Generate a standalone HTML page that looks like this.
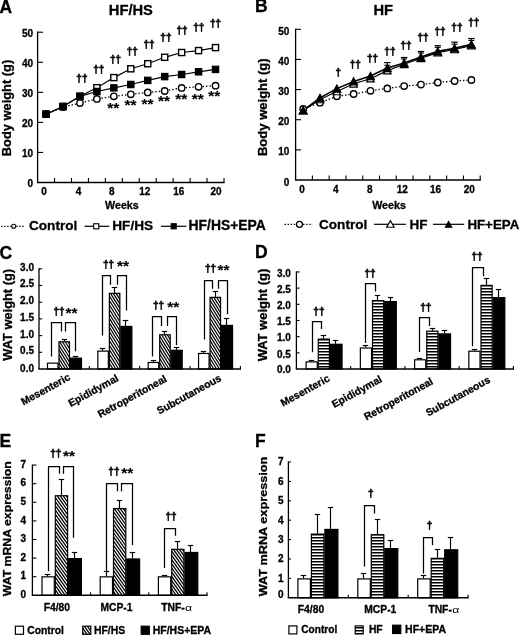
<!DOCTYPE html>
<html lang="en"><head><meta charset="utf-8"><title>Figure</title>
<style>
html,body{margin:0;padding:0;background:#fff}
body{width:520px;height:635px;overflow:hidden}
svg{display:block}
text{font-family:"Liberation Sans",sans-serif;fill:#000;stroke:#000;stroke-width:.3px}
.dg{stroke-width:.55px}
.nb{stroke:none}
.as{stroke-width:.1px}
</style></head><body>
<svg width="520" height="635" viewBox="0 0 520 635">
<defs>
<pattern id="hd" patternUnits="userSpaceOnUse" width="1.78" height="20" patternTransform="rotate(-33)">
<rect width="1.78" height="20" fill="#fff"/><rect width="0.98" height="20" fill="#000"/></pattern>
<pattern id="he" patternUnits="userSpaceOnUse" width="2" height="20" patternTransform="rotate(-37.4)">
<rect width="2" height="20" fill="#fff"/><rect width="1.1" height="20" fill="#000"/></pattern>
<pattern id="hh" patternUnits="userSpaceOnUse" width="10" height="2.81">
<rect width="10" height="2.81" fill="#fff"/><rect width="10" height="1.4" fill="#000"/></pattern>
</defs>
<rect width="520" height="635" fill="#fff"/>

<text x="-0.5" y="12.7" font-size="17.5" font-weight="bold" text-anchor="start" >A</text>
<text x="255" y="12.4" font-size="17.5" font-weight="bold" text-anchor="start" >B</text>
<text x="-0.5" y="258.5" font-size="17.5" font-weight="bold" text-anchor="start" >C</text>
<text x="255" y="258.3" font-size="17.5" font-weight="bold" text-anchor="start" >D</text>
<text x="-0.5" y="446.5" font-size="17.5" font-weight="bold" text-anchor="start" >E</text>
<text x="255" y="446.7" font-size="17.5" font-weight="bold" text-anchor="start" >F</text>
<line x1="37.6" y1="31.6" x2="37.6" y2="182.5" stroke="#000" stroke-width="1.3" />
<line x1="37" y1="182.5" x2="224.6" y2="182.5" stroke="#000" stroke-width="1.3" />
<text x="33.1" y="187.1" font-size="10" font-weight="bold" text-anchor="end" >0</text>
<line x1="37.6" y1="152.44" x2="43.1" y2="152.44" stroke="#000" stroke-width="1.1" />
<text x="33.1" y="157.04" font-size="10" font-weight="bold" text-anchor="end" >10</text>
<line x1="37.6" y1="122.38" x2="43.1" y2="122.38" stroke="#000" stroke-width="1.1" />
<text x="33.1" y="126.98" font-size="10" font-weight="bold" text-anchor="end" >20</text>
<line x1="37.6" y1="92.32" x2="43.1" y2="92.32" stroke="#000" stroke-width="1.1" />
<text x="33.1" y="96.92" font-size="10" font-weight="bold" text-anchor="end" >30</text>
<line x1="37.6" y1="62.26" x2="43.1" y2="62.26" stroke="#000" stroke-width="1.1" />
<text x="33.1" y="66.86" font-size="10" font-weight="bold" text-anchor="end" >40</text>
<line x1="37.6" y1="32.2" x2="43.1" y2="32.2" stroke="#000" stroke-width="1.1" />
<text x="33.1" y="36.8" font-size="10" font-weight="bold" text-anchor="end" >50</text>
<line x1="54.55" y1="182.5" x2="54.55" y2="178" stroke="#000" stroke-width="1.1" />
<line x1="71.49" y1="182.5" x2="71.49" y2="178" stroke="#000" stroke-width="1.1" />
<line x1="88.44" y1="182.5" x2="88.44" y2="178" stroke="#000" stroke-width="1.1" />
<line x1="105.38" y1="182.5" x2="105.38" y2="178" stroke="#000" stroke-width="1.1" />
<line x1="122.33" y1="182.5" x2="122.33" y2="178" stroke="#000" stroke-width="1.1" />
<line x1="139.27" y1="182.5" x2="139.27" y2="178" stroke="#000" stroke-width="1.1" />
<line x1="156.22" y1="182.5" x2="156.22" y2="178" stroke="#000" stroke-width="1.1" />
<line x1="173.16" y1="182.5" x2="173.16" y2="178" stroke="#000" stroke-width="1.1" />
<line x1="190.11" y1="182.5" x2="190.11" y2="178" stroke="#000" stroke-width="1.1" />
<line x1="207.05" y1="182.5" x2="207.05" y2="178" stroke="#000" stroke-width="1.1" />
<line x1="224" y1="182.5" x2="224" y2="178" stroke="#000" stroke-width="1.1" />
<text x="44.1" y="194.9" font-size="10" font-weight="bold" text-anchor="middle" >0</text>
<text x="78.6" y="194.9" font-size="10" font-weight="bold" text-anchor="middle" >4</text>
<text x="111.9" y="194.9" font-size="10" font-weight="bold" text-anchor="middle" >8</text>
<text x="144.8" y="194.9" font-size="10" font-weight="bold" text-anchor="middle" >12</text>
<text x="178.8" y="194.9" font-size="10" font-weight="bold" text-anchor="middle" >16</text>
<text x="216" y="194.9" font-size="10" font-weight="bold" text-anchor="middle" >20</text>
<text x="121.9" y="208.5" font-size="10.7" font-weight="bold" text-anchor="middle" >Weeks</text>
<text x="130.85" y="14.7" font-size="14.7" font-weight="bold" text-anchor="middle" >HF/HS</text>
<text transform="translate(11 108) rotate(-90) scale(1.02 1)" font-size="12.6" font-weight="bold" text-anchor="middle">Body weight (g)</text>
<polyline points="46.07,114.2 63.02,107 79.96,103.1 96.91,98.9 113.85,96.3 130.8,94.3 147.75,92.4 164.69,91 181.64,87.9 198.58,86.8 215.53,85.7" fill="none" stroke="#000" stroke-width="1.3" stroke-dasharray="1.4 2.0"/>
<polyline points="46.07,114.2 63.02,106.5 79.96,96.3 96.91,87.7 113.85,77.6 130.8,68.8 147.75,63.7 164.69,57.3 181.64,52.5 198.58,50.6 215.53,47.6" fill="none" stroke="#000" stroke-width="1.2" />
<polyline points="46.07,114.2 63.02,106.5 79.96,96.3 96.91,91.5 113.85,87.9 130.8,84.5 147.75,80.4 164.69,76.6 181.64,74.5 198.58,71.8 215.53,69.4" fill="none" stroke="#000" stroke-width="1.2" />
<circle cx="46.07" cy="114.2" r="3.2" fill="#fff" stroke="#000" stroke-width="1.4"/>
<circle cx="63.02" cy="107" r="3.2" fill="#fff" stroke="#000" stroke-width="1.4"/>
<circle cx="79.96" cy="103.1" r="3.2" fill="#fff" stroke="#000" stroke-width="1.4"/>
<circle cx="96.91" cy="98.9" r="3.2" fill="#fff" stroke="#000" stroke-width="1.4"/>
<circle cx="113.85" cy="96.3" r="3.2" fill="#fff" stroke="#000" stroke-width="1.4"/>
<circle cx="130.8" cy="94.3" r="3.2" fill="#fff" stroke="#000" stroke-width="1.4"/>
<circle cx="147.75" cy="92.4" r="3.2" fill="#fff" stroke="#000" stroke-width="1.4"/>
<circle cx="164.69" cy="91" r="3.2" fill="#fff" stroke="#000" stroke-width="1.4"/>
<circle cx="181.64" cy="87.9" r="3.2" fill="#fff" stroke="#000" stroke-width="1.4"/>
<circle cx="198.58" cy="86.8" r="3.2" fill="#fff" stroke="#000" stroke-width="1.4"/>
<circle cx="215.53" cy="85.7" r="3.2" fill="#fff" stroke="#000" stroke-width="1.4"/>
<rect x="43.02" y="111.15" width="6.1" height="6.1" fill="#fff" stroke="#000" stroke-width="1.4"/>
<rect x="59.97" y="103.45" width="6.1" height="6.1" fill="#fff" stroke="#000" stroke-width="1.4"/>
<rect x="76.91" y="93.25" width="6.1" height="6.1" fill="#fff" stroke="#000" stroke-width="1.4"/>
<rect x="93.86" y="84.65" width="6.1" height="6.1" fill="#fff" stroke="#000" stroke-width="1.4"/>
<rect x="110.8" y="74.55" width="6.1" height="6.1" fill="#fff" stroke="#000" stroke-width="1.4"/>
<rect x="127.75" y="65.75" width="6.1" height="6.1" fill="#fff" stroke="#000" stroke-width="1.4"/>
<rect x="144.7" y="60.65" width="6.1" height="6.1" fill="#fff" stroke="#000" stroke-width="1.4"/>
<rect x="161.64" y="54.25" width="6.1" height="6.1" fill="#fff" stroke="#000" stroke-width="1.4"/>
<rect x="178.59" y="49.45" width="6.1" height="6.1" fill="#fff" stroke="#000" stroke-width="1.4"/>
<rect x="195.53" y="47.55" width="6.1" height="6.1" fill="#fff" stroke="#000" stroke-width="1.4"/>
<rect x="212.48" y="44.55" width="6.1" height="6.1" fill="#fff" stroke="#000" stroke-width="1.4"/>
<rect x="42.92" y="111.05" width="6.3" height="6.3" fill="#000" stroke="#000" stroke-width="1.2"/>
<rect x="59.87" y="103.35" width="6.3" height="6.3" fill="#000" stroke="#000" stroke-width="1.2"/>
<rect x="76.81" y="93.15" width="6.3" height="6.3" fill="#000" stroke="#000" stroke-width="1.2"/>
<rect x="93.76" y="88.35" width="6.3" height="6.3" fill="#000" stroke="#000" stroke-width="1.2"/>
<rect x="110.7" y="84.75" width="6.3" height="6.3" fill="#000" stroke="#000" stroke-width="1.2"/>
<rect x="127.65" y="81.35" width="6.3" height="6.3" fill="#000" stroke="#000" stroke-width="1.2"/>
<rect x="144.6" y="77.25" width="6.3" height="6.3" fill="#000" stroke="#000" stroke-width="1.2"/>
<rect x="161.54" y="73.45" width="6.3" height="6.3" fill="#000" stroke="#000" stroke-width="1.2"/>
<rect x="178.49" y="71.35" width="6.3" height="6.3" fill="#000" stroke="#000" stroke-width="1.2"/>
<rect x="195.43" y="68.65" width="6.3" height="6.3" fill="#000" stroke="#000" stroke-width="1.2"/>
<rect x="212.38" y="66.25" width="6.3" height="6.3" fill="#000" stroke="#000" stroke-width="1.2"/>
<text x="81.9" y="82.33" font-size="10" font-weight="bold" text-anchor="middle" class="dg">††</text>
<text x="98.7" y="72.63" font-size="10" font-weight="bold" text-anchor="middle" class="dg">††</text>
<text x="115.5" y="63.43" font-size="10" font-weight="bold" text-anchor="middle" class="dg">††</text>
<text x="132.2" y="55.13" font-size="10" font-weight="bold" text-anchor="middle" class="dg">††</text>
<text x="149" y="47.53" font-size="10" font-weight="bold" text-anchor="middle" class="dg">††</text>
<text x="165.9" y="40.73" font-size="10" font-weight="bold" text-anchor="middle" class="dg">††</text>
<text x="182" y="34.33" font-size="10" font-weight="bold" text-anchor="middle" class="dg">††</text>
<text x="198.7" y="30.53" font-size="10" font-weight="bold" text-anchor="middle" class="dg">††</text>
<text x="215.6" y="27.13" font-size="10" font-weight="bold" text-anchor="middle" class="dg">††</text>
<text x="113.3" y="113.37" font-size="15.4" font-weight="bold" text-anchor="middle" class="as">**</text>
<text x="130.4" y="109.87" font-size="15.4" font-weight="bold" text-anchor="middle" class="as">**</text>
<text x="147.6" y="108.57" font-size="15.4" font-weight="bold" text-anchor="middle" class="as">**</text>
<text x="164" y="106.47" font-size="15.4" font-weight="bold" text-anchor="middle" class="as">**</text>
<text x="181.2" y="104.27" font-size="15.4" font-weight="bold" text-anchor="middle" class="as">**</text>
<text x="197.7" y="104.27" font-size="15.4" font-weight="bold" text-anchor="middle" class="as">**</text>
<text x="214.2" y="101.47" font-size="15.4" font-weight="bold" text-anchor="middle" class="as">**</text>
<line x1="1.2" y1="226.3" x2="25" y2="226.3" stroke="#000" stroke-width="1.3" stroke-dasharray="1.4 1.6"/>
<circle cx="13.7" cy="226.3" r="2" fill="#fff" stroke="#000" stroke-width="1.1"/>
<text x="29" y="230.2" font-size="13.6" font-weight="bold" text-anchor="start" >Control</text>
<line x1="84.5" y1="226.3" x2="109.3" y2="226.3" stroke="#000" stroke-width="1.2" />
<rect x="93.7" y="223.75" width="5.1" height="5.1" fill="#fff" stroke="#000" stroke-width="1.1"/>
<text x="112.3" y="230.2" font-size="13.6" font-weight="bold" text-anchor="start" >HF/HS</text>
<line x1="161" y1="226.3" x2="186.3" y2="226.3" stroke="#000" stroke-width="1.2" />
<rect x="171.1" y="223.7" width="5.2" height="5.2" fill="#000" stroke="#000" stroke-width="1"/>
<text x="188.5" y="230.2" font-size="13.9" font-weight="bold" text-anchor="start" >HF/HS+EPA</text>
<line x1="295.6" y1="28.7" x2="295.6" y2="180" stroke="#000" stroke-width="1.3" />
<line x1="295" y1="180" x2="480.8" y2="180" stroke="#000" stroke-width="1.3" />
<text x="289.4" y="185.6" font-size="10" font-weight="bold" text-anchor="end" >0</text>
<line x1="295.6" y1="149.86" x2="301.1" y2="149.86" stroke="#000" stroke-width="1.1" />
<text x="289.4" y="155.46" font-size="10" font-weight="bold" text-anchor="end" >10</text>
<line x1="295.6" y1="119.72" x2="301.1" y2="119.72" stroke="#000" stroke-width="1.1" />
<text x="289.4" y="125.32" font-size="10" font-weight="bold" text-anchor="end" >20</text>
<line x1="295.6" y1="89.58" x2="301.1" y2="89.58" stroke="#000" stroke-width="1.1" />
<text x="289.4" y="95.18" font-size="10" font-weight="bold" text-anchor="end" >30</text>
<line x1="295.6" y1="59.44" x2="301.1" y2="59.44" stroke="#000" stroke-width="1.1" />
<text x="289.4" y="65.04" font-size="10" font-weight="bold" text-anchor="end" >40</text>
<line x1="295.6" y1="29.3" x2="301.1" y2="29.3" stroke="#000" stroke-width="1.1" />
<text x="289.4" y="34.9" font-size="10" font-weight="bold" text-anchor="end" >50</text>
<line x1="312.38" y1="180" x2="312.38" y2="175.5" stroke="#000" stroke-width="1.1" />
<line x1="329.16" y1="180" x2="329.16" y2="175.5" stroke="#000" stroke-width="1.1" />
<line x1="345.95" y1="180" x2="345.95" y2="175.5" stroke="#000" stroke-width="1.1" />
<line x1="362.73" y1="180" x2="362.73" y2="175.5" stroke="#000" stroke-width="1.1" />
<line x1="379.51" y1="180" x2="379.51" y2="175.5" stroke="#000" stroke-width="1.1" />
<line x1="396.29" y1="180" x2="396.29" y2="175.5" stroke="#000" stroke-width="1.1" />
<line x1="413.07" y1="180" x2="413.07" y2="175.5" stroke="#000" stroke-width="1.1" />
<line x1="429.85" y1="180" x2="429.85" y2="175.5" stroke="#000" stroke-width="1.1" />
<line x1="446.64" y1="180" x2="446.64" y2="175.5" stroke="#000" stroke-width="1.1" />
<line x1="463.42" y1="180" x2="463.42" y2="175.5" stroke="#000" stroke-width="1.1" />
<line x1="480.2" y1="180" x2="480.2" y2="175.5" stroke="#000" stroke-width="1.1" />
<text x="302" y="193.3" font-size="10" font-weight="bold" text-anchor="middle" >0</text>
<text x="335.9" y="193.3" font-size="10" font-weight="bold" text-anchor="middle" >4</text>
<text x="369.8" y="193.3" font-size="10" font-weight="bold" text-anchor="middle" >8</text>
<text x="402.2" y="193.3" font-size="10" font-weight="bold" text-anchor="middle" >12</text>
<text x="435.5" y="193.3" font-size="10" font-weight="bold" text-anchor="middle" >16</text>
<text x="469.3" y="193.3" font-size="10" font-weight="bold" text-anchor="middle" >20</text>
<text x="389" y="208.8" font-size="10.7" font-weight="bold" text-anchor="middle" >Weeks</text>
<text x="383.3" y="14.7" font-size="14.7" font-weight="bold" text-anchor="middle" >HF</text>
<text transform="translate(266.8 107.2) rotate(-90) scale(1.035 1)" font-size="12.6" font-weight="bold" text-anchor="middle">Body weight (g)</text>
<polyline points="303.2,109 320.02,102.7 336.84,96.3 353.66,94 370.48,90.8 387.3,88.4 404.12,86.1 420.94,84.6 437.76,82.5 454.58,81 471.4,80" fill="none" stroke="#000" stroke-width="1.3" stroke-dasharray="1.4 2.0"/>
<polyline points="303.2,110.6 320.02,99.5 336.84,91.5 353.66,83.8 370.48,78.7 387.3,70.6 404.12,64.3 420.94,58.3 437.76,52.7 454.58,49.5 471.4,45.7" fill="none" stroke="#000" stroke-width="1.2" />
<polyline points="303.2,110.4 320.02,97.9 336.84,88.6 353.66,81.4 370.48,76 387.3,68 404.12,63 420.94,57.1 437.76,51.4 454.58,48.2 471.4,44.4" fill="none" stroke="#000" stroke-width="1.6" />
<line x1="387.3" y1="68" x2="387.3" y2="62.6" stroke="#000" stroke-width="1.1" />
<line x1="384.1" y1="62.6" x2="390.5" y2="62.6" stroke="#000" stroke-width="1.2" />
<line x1="384.3" y1="65.3" x2="390.3" y2="65.3" stroke="#000" stroke-width="1.1" />
<line x1="404.12" y1="63" x2="404.12" y2="57.5" stroke="#000" stroke-width="1.1" />
<line x1="400.92" y1="57.5" x2="407.32" y2="57.5" stroke="#000" stroke-width="1.2" />
<line x1="401.12" y1="59" x2="407.12" y2="59" stroke="#000" stroke-width="1.1" />
<line x1="420.94" y1="57.1" x2="420.94" y2="51.5" stroke="#000" stroke-width="1.1" />
<line x1="417.74" y1="51.5" x2="424.14" y2="51.5" stroke="#000" stroke-width="1.2" />
<line x1="417.94" y1="53" x2="423.94" y2="53" stroke="#000" stroke-width="1.1" />
<line x1="437.76" y1="51.4" x2="437.76" y2="45.7" stroke="#000" stroke-width="1.1" />
<line x1="434.56" y1="45.7" x2="440.96" y2="45.7" stroke="#000" stroke-width="1.2" />
<line x1="434.76" y1="47.4" x2="440.76" y2="47.4" stroke="#000" stroke-width="1.1" />
<line x1="454.58" y1="48.2" x2="454.58" y2="42.2" stroke="#000" stroke-width="1.1" />
<line x1="451.38" y1="42.2" x2="457.78" y2="42.2" stroke="#000" stroke-width="1.2" />
<line x1="451.58" y1="44.2" x2="457.58" y2="44.2" stroke="#000" stroke-width="1.1" />
<line x1="471.4" y1="44.4" x2="471.4" y2="38.5" stroke="#000" stroke-width="1.1" />
<line x1="468.2" y1="38.5" x2="474.6" y2="38.5" stroke="#000" stroke-width="1.2" />
<line x1="468.4" y1="40.4" x2="474.4" y2="40.4" stroke="#000" stroke-width="1.1" />
<circle cx="303.2" cy="109" r="3.2" fill="#fff" stroke="#000" stroke-width="1.4"/>
<circle cx="320.02" cy="102.7" r="3.2" fill="#fff" stroke="#000" stroke-width="1.4"/>
<circle cx="336.84" cy="96.3" r="3.2" fill="#fff" stroke="#000" stroke-width="1.4"/>
<circle cx="353.66" cy="94" r="3.2" fill="#fff" stroke="#000" stroke-width="1.4"/>
<circle cx="370.48" cy="90.8" r="3.2" fill="#fff" stroke="#000" stroke-width="1.4"/>
<circle cx="387.3" cy="88.4" r="3.2" fill="#fff" stroke="#000" stroke-width="1.4"/>
<circle cx="404.12" cy="86.1" r="3.2" fill="#fff" stroke="#000" stroke-width="1.4"/>
<circle cx="420.94" cy="84.6" r="3.2" fill="#fff" stroke="#000" stroke-width="1.4"/>
<circle cx="437.76" cy="82.5" r="3.2" fill="#fff" stroke="#000" stroke-width="1.4"/>
<circle cx="454.58" cy="81" r="3.2" fill="#fff" stroke="#000" stroke-width="1.4"/>
<circle cx="471.4" cy="80" r="3.2" fill="#fff" stroke="#000" stroke-width="1.4"/>
<polygon points="303.2,107.35 306.95,113.85 299.45,113.85" fill="#fff" stroke="#000" stroke-width="1.2" stroke-linejoin="miter"/>
<polygon points="320.02,96.25 323.77,102.75 316.27,102.75" fill="#fff" stroke="#000" stroke-width="1.2" stroke-linejoin="miter"/>
<polygon points="336.84,88.25 340.59,94.75 333.09,94.75" fill="#fff" stroke="#000" stroke-width="1.2" stroke-linejoin="miter"/>
<polygon points="353.66,80.55 357.41,87.05 349.91,87.05" fill="#fff" stroke="#000" stroke-width="1.2" stroke-linejoin="miter"/>
<polygon points="370.48,75.45 374.23,81.95 366.73,81.95" fill="#fff" stroke="#000" stroke-width="1.2" stroke-linejoin="miter"/>
<polygon points="387.3,67.35 391.05,73.85 383.55,73.85" fill="#fff" stroke="#000" stroke-width="1.2" stroke-linejoin="miter"/>
<polygon points="404.12,61.05 407.87,67.55 400.37,67.55" fill="#fff" stroke="#000" stroke-width="1.2" stroke-linejoin="miter"/>
<polygon points="420.94,55.05 424.69,61.55 417.19,61.55" fill="#fff" stroke="#000" stroke-width="1.2" stroke-linejoin="miter"/>
<polygon points="437.76,49.45 441.51,55.95 434.01,55.95" fill="#fff" stroke="#000" stroke-width="1.2" stroke-linejoin="miter"/>
<polygon points="454.58,46.25 458.33,52.75 450.83,52.75" fill="#fff" stroke="#000" stroke-width="1.2" stroke-linejoin="miter"/>
<polygon points="471.4,42.45 475.15,48.95 467.65,48.95" fill="#fff" stroke="#000" stroke-width="1.2" stroke-linejoin="miter"/>
<polygon points="303.2,106.8 307.1,114 299.3,114" fill="#000" stroke="#000" stroke-width="1.2" stroke-linejoin="miter"/>
<polygon points="320.02,94.3 323.92,101.5 316.12,101.5" fill="#000" stroke="#000" stroke-width="1.2" stroke-linejoin="miter"/>
<polygon points="336.84,85 340.74,92.2 332.94,92.2" fill="#000" stroke="#000" stroke-width="1.2" stroke-linejoin="miter"/>
<polygon points="353.66,77.8 357.56,85 349.76,85" fill="#000" stroke="#000" stroke-width="1.2" stroke-linejoin="miter"/>
<polygon points="370.48,72.4 374.38,79.6 366.58,79.6" fill="#000" stroke="#000" stroke-width="1.2" stroke-linejoin="miter"/>
<polygon points="387.3,64.4 391.2,71.6 383.4,71.6" fill="#000" stroke="#000" stroke-width="1.2" stroke-linejoin="miter"/>
<polygon points="404.12,59.4 408.02,66.6 400.22,66.6" fill="#000" stroke="#000" stroke-width="1.2" stroke-linejoin="miter"/>
<polygon points="420.94,53.5 424.84,60.7 417.04,60.7" fill="#000" stroke="#000" stroke-width="1.2" stroke-linejoin="miter"/>
<polygon points="437.76,47.8 441.66,55 433.86,55" fill="#000" stroke="#000" stroke-width="1.2" stroke-linejoin="miter"/>
<polygon points="454.58,44.6 458.48,51.8 450.68,51.8" fill="#000" stroke="#000" stroke-width="1.2" stroke-linejoin="miter"/>
<polygon points="471.4,40.8 475.3,48 467.5,48" fill="#000" stroke="#000" stroke-width="1.2" stroke-linejoin="miter"/>
<text x="338.3" y="76.13" font-size="10" font-weight="bold" text-anchor="middle" class="dg">†</text>
<text x="355.2" y="67.83" font-size="10" font-weight="bold" text-anchor="middle" class="dg">††</text>
<text x="372.5" y="62.13" font-size="10" font-weight="bold" text-anchor="middle" class="dg">††</text>
<text x="389.9" y="55.03" font-size="10" font-weight="bold" text-anchor="middle" class="dg">††</text>
<text x="406.1" y="49.13" font-size="10" font-weight="bold" text-anchor="middle" class="dg">††</text>
<text x="423.1" y="41.13" font-size="10" font-weight="bold" text-anchor="middle" class="dg">††</text>
<text x="440" y="34.83" font-size="10" font-weight="bold" text-anchor="middle" class="dg">††</text>
<text x="456.9" y="30.53" font-size="10" font-weight="bold" text-anchor="middle" class="dg">††</text>
<text x="473.8" y="26.03" font-size="10" font-weight="bold" text-anchor="middle" class="dg">††</text>
<line x1="284.5" y1="224.3" x2="312.5" y2="224.3" stroke="#000" stroke-width="1.3" stroke-dasharray="1.4 1.7"/>
<circle cx="299.5" cy="224.3" r="3" fill="#fff" stroke="#000" stroke-width="1.3"/>
<text x="319" y="229" font-size="13.6" font-weight="bold" text-anchor="start" >Control</text>
<line x1="374" y1="224.3" x2="406" y2="224.3" stroke="#000" stroke-width="1.2" />
<polygon points="390.4,220.75 394.15,227.25 386.65,227.25" fill="#fff" stroke="#000" stroke-width="1.2" stroke-linejoin="miter"/>
<text x="409.5" y="228.9" font-size="13.5" font-weight="bold" text-anchor="start" >HF</text>
<line x1="433" y1="224.3" x2="464.2" y2="224.3" stroke="#000" stroke-width="1.2" />
<polygon points="448.6,221.5 451.8,227.3 445.4,227.3" fill="#000" stroke="#000" stroke-width="1.1" stroke-linejoin="miter"/>
<text x="467.4" y="228.7" font-size="13.3" font-weight="bold" text-anchor="start" >HF+EPA</text>
<rect x="47.5" y="363.15" width="10.5" height="5.85" fill="#fff" stroke="#000" stroke-width="1.2"/>
<line x1="64.5" y1="341.28" x2="64.5" y2="339.5" stroke="#000" stroke-width="1.15" />
<line x1="61.8" y1="339.5" x2="67.2" y2="339.5" stroke="#000" stroke-width="1.15" />
<clipPath id="c1"><rect x="59" y="341.78" width="10.5" height="27.22"/></clipPath>
<rect x="59" y="341.78" width="10.5" height="27.22" fill="#fff"/>
<path clip-path="url(#c1)" d="M40.01 341.78L57.03 369M42.81 341.78L59.83 369M45.61 341.78L62.62 369M48.41 341.78L65.43 369M51.21 341.78L68.23 369M54.01 341.78L71.03 369M56.81 341.78L73.83 369M59.61 341.78L76.62 369M62.41 341.78L79.43 369M65.21 341.78L82.23 369M68.01 341.78L85.03 369M70.81 341.78L87.83 369" stroke="#000" stroke-width="1.22" fill="none"/>
<rect x="59" y="341.78" width="10.5" height="27.22" fill="none" stroke="#000" stroke-width="1.2"/>
<line x1="75.5" y1="357.64" x2="75.5" y2="356.5" stroke="#000" stroke-width="1.15" />
<line x1="72.8" y1="356.5" x2="78.2" y2="356.5" stroke="#000" stroke-width="1.15" />
<rect x="70.5" y="358.14" width="11" height="10.86" fill="#000" stroke="#000" stroke-width="1.2"/>
<line x1="102.5" y1="350.63" x2="102.5" y2="348.5" stroke="#000" stroke-width="1.15" />
<line x1="99.8" y1="348.5" x2="105.2" y2="348.5" stroke="#000" stroke-width="1.15" />
<rect x="97.85" y="351.13" width="10.5" height="17.87" fill="#fff" stroke="#000" stroke-width="1.2"/>
<line x1="114.5" y1="292.85" x2="114.5" y2="287.5" stroke="#000" stroke-width="1.15" />
<line x1="111.8" y1="287.5" x2="117.2" y2="287.5" stroke="#000" stroke-width="1.15" />
<clipPath id="c2"><rect x="109.35" y="293.35" width="10.5" height="75.65"/></clipPath>
<rect x="109.35" y="293.35" width="10.5" height="75.65" fill="#fff"/>
<path clip-path="url(#c2)" d="M60.14 293.35L107.43 369M62.94 293.35L110.22 369M65.74 293.35L113.03 369M68.54 293.35L115.82 369M71.34 293.35L118.62 369M74.14 293.35L121.43 369M76.94 293.35L124.22 369M79.74 293.35L127.03 369M82.54 293.35L129.82 369M85.34 293.35L132.62 369M88.14 293.35L135.43 369M90.94 293.35L138.22 369M93.74 293.35L141.03 369M96.54 293.35L143.82 369M99.34 293.35L146.62 369M102.14 293.35L149.43 369M104.94 293.35L152.22 369M107.74 293.35L155.03 369M110.54 293.35L157.82 369M113.34 293.35L160.62 369M116.14 293.35L163.43 369M118.94 293.35L166.22 369M121.74 293.35L169.03 369" stroke="#000" stroke-width="1.22" fill="none"/>
<rect x="109.35" y="293.35" width="10.5" height="75.65" fill="none" stroke="#000" stroke-width="1.2"/>
<line x1="125.5" y1="325.91" x2="125.5" y2="320.5" stroke="#000" stroke-width="1.15" />
<line x1="122.8" y1="320.5" x2="128.2" y2="320.5" stroke="#000" stroke-width="1.15" />
<rect x="120.85" y="326.41" width="11" height="42.59" fill="#000" stroke="#000" stroke-width="1.2"/>
<line x1="153.5" y1="361.99" x2="153.5" y2="360.5" stroke="#000" stroke-width="1.15" />
<line x1="150.8" y1="360.5" x2="156.2" y2="360.5" stroke="#000" stroke-width="1.15" />
<rect x="148.2" y="362.49" width="10.5" height="6.51" fill="#fff" stroke="#000" stroke-width="1.2"/>
<line x1="164.5" y1="334.26" x2="164.5" y2="331.5" stroke="#000" stroke-width="1.15" />
<line x1="161.8" y1="331.5" x2="167.2" y2="331.5" stroke="#000" stroke-width="1.15" />
<clipPath id="c3"><rect x="159.7" y="334.76" width="10.5" height="34.24"/></clipPath>
<rect x="159.7" y="334.76" width="10.5" height="34.24" fill="#fff"/>
<path clip-path="url(#c3)" d="M136.43 334.76L157.82 369M139.23 334.76L160.62 369M142.03 334.76L163.43 369M144.83 334.76L166.22 369M147.63 334.76L169.02 369M150.43 334.76L171.82 369M153.23 334.76L174.62 369M156.03 334.76L177.43 369M158.83 334.76L180.22 369M161.63 334.76L183.02 369M164.43 334.76L185.82 369M167.23 334.76L188.62 369M170.03 334.76L191.43 369M172.83 334.76L194.22 369" stroke="#000" stroke-width="1.22" fill="none"/>
<rect x="159.7" y="334.76" width="10.5" height="34.24" fill="none" stroke="#000" stroke-width="1.2"/>
<line x1="176.5" y1="349.8" x2="176.5" y2="347.5" stroke="#000" stroke-width="1.15" />
<line x1="173.8" y1="347.5" x2="179.2" y2="347.5" stroke="#000" stroke-width="1.15" />
<rect x="171.2" y="350.3" width="11" height="18.7" fill="#000" stroke="#000" stroke-width="1.2"/>
<line x1="203.5" y1="352.97" x2="203.5" y2="351.5" stroke="#000" stroke-width="1.15" />
<line x1="200.8" y1="351.5" x2="206.2" y2="351.5" stroke="#000" stroke-width="1.15" />
<rect x="198.55" y="353.47" width="10.5" height="15.53" fill="#fff" stroke="#000" stroke-width="1.2"/>
<line x1="215.5" y1="296.86" x2="215.5" y2="291.5" stroke="#000" stroke-width="1.15" />
<line x1="212.8" y1="291.5" x2="218.2" y2="291.5" stroke="#000" stroke-width="1.15" />
<clipPath id="c4"><rect x="210.05" y="297.36" width="10.5" height="71.64"/></clipPath>
<rect x="210.05" y="297.36" width="10.5" height="71.64" fill="#fff"/>
<path clip-path="url(#c4)" d="M163.45 297.36L208.22 369M166.25 297.36L211.03 369M169.05 297.36L213.83 369M171.85 297.36L216.62 369M174.65 297.36L219.43 369M177.45 297.36L222.22 369M180.25 297.36L225.03 369M183.05 297.36L227.82 369M185.85 297.36L230.62 369M188.65 297.36L233.43 369M191.45 297.36L236.22 369M194.25 297.36L239.03 369M197.05 297.36L241.82 369M199.85 297.36L244.62 369M202.65 297.36L247.42 369M205.45 297.36L250.22 369M208.25 297.36L253.03 369M211.05 297.36L255.82 369M213.85 297.36L258.62 369M216.65 297.36L261.42 369M219.45 297.36L264.23 369M222.25 297.36L267.02 369" stroke="#000" stroke-width="1.22" fill="none"/>
<rect x="210.05" y="297.36" width="10.5" height="71.64" fill="none" stroke="#000" stroke-width="1.2"/>
<line x1="226.5" y1="324.91" x2="226.5" y2="318.5" stroke="#000" stroke-width="1.15" />
<line x1="223.8" y1="318.5" x2="229.2" y2="318.5" stroke="#000" stroke-width="1.15" />
<rect x="221.55" y="325.41" width="11" height="43.59" fill="#000" stroke="#000" stroke-width="1.2"/>
<line x1="39" y1="268.2" x2="39" y2="369" stroke="#000" stroke-width="1.3" />
<line x1="38.4" y1="369" x2="241" y2="369" stroke="#000" stroke-width="1.4" />
<text x="34" y="371.6" font-size="10" font-weight="bold" text-anchor="end" >0.0</text>
<line x1="39" y1="352.3" x2="42.2" y2="352.3" stroke="#000" stroke-width="1.1" />
<text x="34" y="354.2" font-size="10" font-weight="bold" text-anchor="end" >0.5</text>
<line x1="39" y1="335.6" x2="42.2" y2="335.6" stroke="#000" stroke-width="1.1" />
<text x="34" y="337.5" font-size="10" font-weight="bold" text-anchor="end" >1.0</text>
<line x1="39" y1="318.9" x2="42.2" y2="318.9" stroke="#000" stroke-width="1.1" />
<text x="34" y="320.8" font-size="10" font-weight="bold" text-anchor="end" >1.5</text>
<line x1="39" y1="302.2" x2="42.2" y2="302.2" stroke="#000" stroke-width="1.1" />
<text x="34" y="304.1" font-size="10" font-weight="bold" text-anchor="end" >2.0</text>
<line x1="39" y1="285.5" x2="42.2" y2="285.5" stroke="#000" stroke-width="1.1" />
<text x="34" y="287.4" font-size="10" font-weight="bold" text-anchor="end" >2.5</text>
<line x1="39" y1="268.8" x2="42.2" y2="268.8" stroke="#000" stroke-width="1.1" />
<text x="34" y="270.7" font-size="10" font-weight="bold" text-anchor="end" >3.0</text>
<line x1="89.35" y1="369" x2="89.35" y2="366" stroke="#000" stroke-width="1.1" />
<line x1="139.7" y1="369" x2="139.7" y2="366" stroke="#000" stroke-width="1.1" />
<line x1="190.05" y1="369" x2="190.05" y2="366" stroke="#000" stroke-width="1.1" />
<line x1="240.4" y1="369" x2="240.4" y2="366" stroke="#000" stroke-width="1.1" />
<text transform="translate(11.7 314.8) rotate(-90) scale(1.02 1)" font-size="12.6" font-weight="bold" text-anchor="middle">WAT weight (g)</text>
<polyline points="51.5,356.5 51.5,322.5 61.5,322.5 61.5,331.6" fill="none" stroke="#000" stroke-width="1.25" />
<polyline points="75.5,351.3 75.5,322.5 65.5,322.5 65.5,331.6" fill="none" stroke="#000" stroke-width="1.25" />
<polyline points="102.5,335.4 102.5,275.5 110.5,275.5 110.5,284.7" fill="none" stroke="#000" stroke-width="1.25" />
<polyline points="126.5,310.5 126.5,275.5 117.5,275.5 117.5,284.7" fill="none" stroke="#000" stroke-width="1.25" />
<polyline points="152.5,356.5 152.5,316.5 161.5,316.5 161.5,325.9" fill="none" stroke="#000" stroke-width="1.25" />
<polyline points="176.5,344.9 176.5,316.5 167.5,316.5 167.5,325.9" fill="none" stroke="#000" stroke-width="1.25" />
<polyline points="204.5,339.6 204.5,280.5 212.5,280.5 212.5,288.8" fill="none" stroke="#000" stroke-width="1.25" />
<polyline points="227.5,314.2 227.5,280.5 218.5,280.5 218.5,288.8" fill="none" stroke="#000" stroke-width="1.25" />
<text x="59" y="315.13" font-size="10" font-weight="bold" text-anchor="middle" class="dg">††</text>
<text x="71.6" y="318.07" font-size="15.4" font-weight="bold" text-anchor="middle" class="as">**</text>
<text x="108.5" y="267.53" font-size="10" font-weight="bold" text-anchor="middle" class="dg">††</text>
<text x="123.1" y="271.17" font-size="15.4" font-weight="bold" text-anchor="middle" class="as">**</text>
<text x="158.5" y="309.23" font-size="10" font-weight="bold" text-anchor="middle" class="dg">††</text>
<text x="173.2" y="312.17" font-size="15.4" font-weight="bold" text-anchor="middle" class="as">**</text>
<text x="210.6" y="271.83" font-size="10" font-weight="bold" text-anchor="middle" class="dg">††</text>
<text x="223.6" y="274.77" font-size="15.4" font-weight="bold" text-anchor="middle" class="as">**</text>
<text transform="translate(71 379.3) rotate(-28.8)" font-size="10.4" font-weight="bold" text-anchor="end">Mesenteric</text>
<text transform="translate(119.3 380.3) rotate(-28.8)" font-size="10.4" font-weight="bold" text-anchor="end">Epididymal</text>
<text transform="translate(167.5 381) rotate(-28.8)" font-size="10.4" font-weight="bold" text-anchor="end">Retroperitoneal</text>
<text transform="translate(222.1 380.1) rotate(-28.8)" font-size="10.4" font-weight="bold" text-anchor="end">Subcutaneous</text>
<line x1="311.5" y1="361.4" x2="311.5" y2="360.5" stroke="#000" stroke-width="1.15" />
<line x1="308.8" y1="360.5" x2="314.2" y2="360.5" stroke="#000" stroke-width="1.15" />
<rect x="306.1" y="361.9" width="11.15" height="7.1" fill="#fff" stroke="#000" stroke-width="1.2"/>
<line x1="323.5" y1="338.59" x2="323.5" y2="335.5" stroke="#000" stroke-width="1.15" />
<line x1="320.8" y1="335.5" x2="326.2" y2="335.5" stroke="#000" stroke-width="1.15" />
<clipPath id="c5"><rect x="318.25" y="339.09" width="11.15" height="29.91"/></clipPath>
<rect x="318.25" y="339.09" width="11.15" height="29.91" fill="#fff"/>
<path clip-path="url(#c5)" d="M317.25 336.8H330.4M317.25 339.8H330.4M317.25 342.8H330.4M317.25 345.8H330.4M317.25 348.8H330.4M317.25 351.8H330.4M317.25 354.8H330.4M317.25 357.8H330.4M317.25 360.8H330.4M317.25 363.8H330.4M317.25 366.8H330.4M317.25 369.8H330.4" stroke="#000" stroke-width="1.6" fill="none"/>
<rect x="318.25" y="339.09" width="11.15" height="29.91" fill="none" stroke="#000" stroke-width="1.2"/>
<line x1="335.5" y1="343.77" x2="335.5" y2="340.5" stroke="#000" stroke-width="1.15" />
<line x1="332.8" y1="340.5" x2="338.2" y2="340.5" stroke="#000" stroke-width="1.15" />
<rect x="330.4" y="344.27" width="11.65" height="24.73" fill="#000" stroke="#000" stroke-width="1.2"/>
<line x1="365.5" y1="347.49" x2="365.5" y2="345.5" stroke="#000" stroke-width="1.15" />
<line x1="362.8" y1="345.5" x2="368.2" y2="345.5" stroke="#000" stroke-width="1.15" />
<rect x="360.35" y="347.99" width="11.15" height="21.01" fill="#fff" stroke="#000" stroke-width="1.2"/>
<line x1="377.5" y1="300.09" x2="377.5" y2="295.5" stroke="#000" stroke-width="1.15" />
<line x1="374.8" y1="295.5" x2="380.2" y2="295.5" stroke="#000" stroke-width="1.15" />
<clipPath id="c6"><rect x="372.5" y="300.59" width="11.15" height="68.41"/></clipPath>
<rect x="372.5" y="300.59" width="11.15" height="68.41" fill="#fff"/>
<path clip-path="url(#c6)" d="M371.5 297.8H384.65M371.5 300.8H384.65M371.5 303.8H384.65M371.5 306.8H384.65M371.5 309.8H384.65M371.5 312.8H384.65M371.5 315.8H384.65M371.5 318.8H384.65M371.5 321.8H384.65M371.5 324.8H384.65M371.5 327.8H384.65M371.5 330.8H384.65M371.5 333.8H384.65M371.5 336.8H384.65M371.5 339.8H384.65M371.5 342.8H384.65M371.5 345.8H384.65M371.5 348.8H384.65M371.5 351.8H384.65M371.5 354.8H384.65M371.5 357.8H384.65M371.5 360.8H384.65M371.5 363.8H384.65M371.5 366.8H384.65M371.5 369.8H384.65" stroke="#000" stroke-width="1.6" fill="none"/>
<rect x="372.5" y="300.59" width="11.15" height="68.41" fill="none" stroke="#000" stroke-width="1.2"/>
<line x1="390.5" y1="301.06" x2="390.5" y2="297.5" stroke="#000" stroke-width="1.15" />
<line x1="387.8" y1="297.5" x2="393.2" y2="297.5" stroke="#000" stroke-width="1.15" />
<rect x="384.65" y="301.56" width="11.65" height="67.44" fill="#000" stroke="#000" stroke-width="1.2"/>
<line x1="419.5" y1="359.3" x2="419.5" y2="358.5" stroke="#000" stroke-width="1.15" />
<line x1="416.8" y1="358.5" x2="422.2" y2="358.5" stroke="#000" stroke-width="1.15" />
<rect x="414.6" y="359.8" width="11.15" height="9.2" fill="#fff" stroke="#000" stroke-width="1.2"/>
<line x1="432.5" y1="330.67" x2="432.5" y2="328.5" stroke="#000" stroke-width="1.15" />
<line x1="429.8" y1="328.5" x2="435.2" y2="328.5" stroke="#000" stroke-width="1.15" />
<clipPath id="c7"><rect x="426.75" y="331.17" width="11.15" height="37.83"/></clipPath>
<rect x="426.75" y="331.17" width="11.15" height="37.83" fill="#fff"/>
<path clip-path="url(#c7)" d="M425.75 327.8H438.9M425.75 330.8H438.9M425.75 333.8H438.9M425.75 336.8H438.9M425.75 339.8H438.9M425.75 342.8H438.9M425.75 345.8H438.9M425.75 348.8H438.9M425.75 351.8H438.9M425.75 354.8H438.9M425.75 357.8H438.9M425.75 360.8H438.9M425.75 363.8H438.9M425.75 366.8H438.9M425.75 369.8H438.9" stroke="#000" stroke-width="1.6" fill="none"/>
<rect x="426.75" y="331.17" width="11.15" height="37.83" fill="none" stroke="#000" stroke-width="1.2"/>
<line x1="444.5" y1="333.41" x2="444.5" y2="330.5" stroke="#000" stroke-width="1.15" />
<line x1="441.8" y1="330.5" x2="447.2" y2="330.5" stroke="#000" stroke-width="1.15" />
<rect x="438.9" y="333.91" width="11.65" height="35.09" fill="#000" stroke="#000" stroke-width="1.2"/>
<line x1="474.5" y1="350.72" x2="474.5" y2="349.5" stroke="#000" stroke-width="1.15" />
<line x1="471.8" y1="349.5" x2="477.2" y2="349.5" stroke="#000" stroke-width="1.15" />
<rect x="468.85" y="351.22" width="11.15" height="17.78" fill="#fff" stroke="#000" stroke-width="1.2"/>
<line x1="486.5" y1="284.89" x2="486.5" y2="278.5" stroke="#000" stroke-width="1.15" />
<line x1="483.8" y1="278.5" x2="489.2" y2="278.5" stroke="#000" stroke-width="1.15" />
<clipPath id="c8"><rect x="481" y="285.39" width="11.15" height="83.61"/></clipPath>
<rect x="481" y="285.39" width="11.15" height="83.61" fill="#fff"/>
<path clip-path="url(#c8)" d="M480 282.8H493.15M480 285.8H493.15M480 288.8H493.15M480 291.8H493.15M480 294.8H493.15M480 297.8H493.15M480 300.8H493.15M480 303.8H493.15M480 306.8H493.15M480 309.8H493.15M480 312.8H493.15M480 315.8H493.15M480 318.8H493.15M480 321.8H493.15M480 324.8H493.15M480 327.8H493.15M480 330.8H493.15M480 333.8H493.15M480 336.8H493.15M480 339.8H493.15M480 342.8H493.15M480 345.8H493.15M480 348.8H493.15M480 351.8H493.15M480 354.8H493.15M480 357.8H493.15M480 360.8H493.15M480 363.8H493.15M480 366.8H493.15M480 369.8H493.15" stroke="#000" stroke-width="1.6" fill="none"/>
<rect x="481" y="285.39" width="11.15" height="83.61" fill="none" stroke="#000" stroke-width="1.2"/>
<line x1="498.5" y1="297.18" x2="498.5" y2="289.5" stroke="#000" stroke-width="1.15" />
<line x1="495.8" y1="289.5" x2="501.2" y2="289.5" stroke="#000" stroke-width="1.15" />
<rect x="493.15" y="297.68" width="11.65" height="71.32" fill="#000" stroke="#000" stroke-width="1.2"/>
<line x1="296.4" y1="271.35" x2="296.4" y2="369" stroke="#000" stroke-width="1.3" />
<line x1="295.8" y1="369" x2="514" y2="369" stroke="#000" stroke-width="1.4" />
<text x="290.9" y="373" font-size="10" font-weight="bold" text-anchor="end" >0.0</text>
<line x1="296.4" y1="352.82" x2="299.6" y2="352.82" stroke="#000" stroke-width="1.1" />
<text x="290.9" y="357.62" font-size="10" font-weight="bold" text-anchor="end" >0.5</text>
<line x1="296.4" y1="336.65" x2="299.6" y2="336.65" stroke="#000" stroke-width="1.1" />
<text x="290.9" y="341.45" font-size="10" font-weight="bold" text-anchor="end" >1.0</text>
<line x1="296.4" y1="320.48" x2="299.6" y2="320.48" stroke="#000" stroke-width="1.1" />
<text x="290.9" y="325.28" font-size="10" font-weight="bold" text-anchor="end" >1.5</text>
<line x1="296.4" y1="304.3" x2="299.6" y2="304.3" stroke="#000" stroke-width="1.1" />
<text x="290.9" y="309.1" font-size="10" font-weight="bold" text-anchor="end" >2.0</text>
<line x1="296.4" y1="288.12" x2="299.6" y2="288.12" stroke="#000" stroke-width="1.1" />
<text x="290.9" y="292.93" font-size="10" font-weight="bold" text-anchor="end" >2.5</text>
<line x1="296.4" y1="271.95" x2="299.6" y2="271.95" stroke="#000" stroke-width="1.1" />
<text x="290.9" y="276.75" font-size="10" font-weight="bold" text-anchor="end" >3.0</text>
<line x1="350.65" y1="369" x2="350.65" y2="366" stroke="#000" stroke-width="1.1" />
<line x1="404.9" y1="369" x2="404.9" y2="366" stroke="#000" stroke-width="1.1" />
<line x1="459.15" y1="369" x2="459.15" y2="366" stroke="#000" stroke-width="1.1" />
<line x1="513.4" y1="369" x2="513.4" y2="366" stroke="#000" stroke-width="1.1" />
<text transform="translate(267.2 315) rotate(-90) scale(1.03 1)" font-size="12.6" font-weight="bold" text-anchor="middle">WAT weight (g)</text>
<polyline points="312.5,352.3 312.5,321.5 321.5,321.5 321.5,329" fill="none" stroke="#000" stroke-width="1.25" />
<polyline points="365.5,343 365.5,283.5 375.5,283.5 375.5,291.6" fill="none" stroke="#000" stroke-width="1.25" />
<polyline points="419.5,351.9 419.5,317.5 429.5,317.5 429.5,326.1" fill="none" stroke="#000" stroke-width="1.25" />
<polyline points="472.5,346.2 472.5,267.5 483.5,267.5 483.5,276.2" fill="none" stroke="#000" stroke-width="1.25" />
<text x="318.9" y="315.13" font-size="10" font-weight="bold" text-anchor="middle" class="dg">††</text>
<text x="370" y="277.13" font-size="10" font-weight="bold" text-anchor="middle" class="dg">††</text>
<text x="425.7" y="311.03" font-size="10" font-weight="bold" text-anchor="middle" class="dg">††</text>
<text x="477" y="259.63" font-size="10" font-weight="bold" text-anchor="middle" class="dg">††</text>
<text transform="translate(330.5 380.5) rotate(-28.8)" font-size="10.4" font-weight="bold" text-anchor="end">Mesenteric</text>
<text transform="translate(382.8 381.3) rotate(-28.8)" font-size="10.4" font-weight="bold" text-anchor="end">Epididymal</text>
<text transform="translate(433.8 383.5) rotate(-28.8)" font-size="10.4" font-weight="bold" text-anchor="end">Retroperitoneal</text>
<text transform="translate(491 382) rotate(-28.8)" font-size="10.4" font-weight="bold" text-anchor="end">Subcutaneous</text>
<line x1="47.5" y1="576.33" x2="47.5" y2="574.5" stroke="#000" stroke-width="1.15" />
<line x1="44.8" y1="574.5" x2="50.2" y2="574.5" stroke="#000" stroke-width="1.15" />
<rect x="42" y="576.83" width="12.3" height="18.47" fill="#fff" stroke="#000" stroke-width="1.2"/>
<line x1="61.5" y1="495.23" x2="61.5" y2="479.5" stroke="#000" stroke-width="1.15" />
<line x1="58.8" y1="479.5" x2="64.2" y2="479.5" stroke="#000" stroke-width="1.15" />
<clipPath id="c9"><rect x="55.3" y="495.73" width="12.3" height="99.57"/></clipPath>
<rect x="55.3" y="495.73" width="12.3" height="99.57" fill="#fff"/>
<path clip-path="url(#c9)" d="M-17.91 495.73L53.21 595.3M-14.91 495.73L56.21 595.3M-11.91 495.73L59.21 595.3M-8.91 495.73L62.21 595.3M-5.91 495.73L65.21 595.3M-2.91 495.73L68.21 595.3M0.09 495.73L71.21 595.3M3.09 495.73L74.21 595.3M6.09 495.73L77.21 595.3M9.09 495.73L80.21 595.3M12.09 495.73L83.21 595.3M15.09 495.73L86.21 595.3M18.09 495.73L89.21 595.3M21.09 495.73L92.21 595.3M24.09 495.73L95.21 595.3M27.09 495.73L98.21 595.3M30.09 495.73L101.21 595.3M33.09 495.73L104.21 595.3M36.09 495.73L107.21 595.3M39.09 495.73L110.21 595.3M42.09 495.73L113.21 595.3M45.09 495.73L116.21 595.3M48.09 495.73L119.21 595.3M51.09 495.73L122.21 595.3M54.09 495.73L125.21 595.3M57.09 495.73L128.21 595.3M60.09 495.73L131.21 595.3M63.09 495.73L134.21 595.3M66.09 495.73L137.21 595.3M69.09 495.73L140.21 595.3" stroke="#000" stroke-width="1.3" fill="none"/>
<rect x="55.3" y="495.73" width="12.3" height="99.57" fill="none" stroke="#000" stroke-width="1.2"/>
<line x1="74.5" y1="558.1" x2="74.5" y2="552.5" stroke="#000" stroke-width="1.15" />
<line x1="71.8" y1="552.5" x2="77.2" y2="552.5" stroke="#000" stroke-width="1.15" />
<rect x="68.6" y="558.6" width="12.8" height="36.7" fill="#000" stroke="#000" stroke-width="1.2"/>
<line x1="106.5" y1="576.33" x2="106.5" y2="571.5" stroke="#000" stroke-width="1.15" />
<line x1="103.8" y1="571.5" x2="109.2" y2="571.5" stroke="#000" stroke-width="1.15" />
<rect x="100.2" y="576.83" width="12.3" height="18.47" fill="#fff" stroke="#000" stroke-width="1.2"/>
<line x1="119.5" y1="508.07" x2="119.5" y2="500.5" stroke="#000" stroke-width="1.15" />
<line x1="116.8" y1="500.5" x2="122.2" y2="500.5" stroke="#000" stroke-width="1.15" />
<clipPath id="c10"><rect x="113.5" y="508.57" width="12.3" height="86.73"/></clipPath>
<rect x="113.5" y="508.57" width="12.3" height="86.73" fill="#fff"/>
<path clip-path="url(#c10)" d="M51.26 508.57L113.21 595.3M54.26 508.57L116.21 595.3M57.26 508.57L119.21 595.3M60.26 508.57L122.21 595.3M63.26 508.57L125.21 595.3M66.26 508.57L128.21 595.3M69.26 508.57L131.21 595.3M72.26 508.57L134.21 595.3M75.26 508.57L137.21 595.3M78.26 508.57L140.21 595.3M81.26 508.57L143.21 595.3M84.26 508.57L146.21 595.3M87.26 508.57L149.21 595.3M90.26 508.57L152.21 595.3M93.26 508.57L155.21 595.3M96.26 508.57L158.21 595.3M99.26 508.57L161.21 595.3M102.26 508.57L164.21 595.3M105.26 508.57L167.21 595.3M108.26 508.57L170.21 595.3M111.26 508.57L173.21 595.3M114.26 508.57L176.21 595.3M117.26 508.57L179.21 595.3M120.26 508.57L182.21 595.3M123.26 508.57L185.21 595.3M126.26 508.57L188.21 595.3" stroke="#000" stroke-width="1.3" fill="none"/>
<rect x="113.5" y="508.57" width="12.3" height="86.73" fill="none" stroke="#000" stroke-width="1.2"/>
<line x1="132.5" y1="558.47" x2="132.5" y2="552.5" stroke="#000" stroke-width="1.15" />
<line x1="129.8" y1="552.5" x2="135.2" y2="552.5" stroke="#000" stroke-width="1.15" />
<rect x="126.8" y="558.97" width="12.8" height="36.33" fill="#000" stroke="#000" stroke-width="1.2"/>
<line x1="164.5" y1="576.33" x2="164.5" y2="575.5" stroke="#000" stroke-width="1.15" />
<line x1="161.8" y1="575.5" x2="167.2" y2="575.5" stroke="#000" stroke-width="1.15" />
<rect x="158.4" y="576.83" width="12.3" height="18.47" fill="#fff" stroke="#000" stroke-width="1.2"/>
<line x1="177.5" y1="548.8" x2="177.5" y2="541.5" stroke="#000" stroke-width="1.15" />
<line x1="174.8" y1="541.5" x2="180.2" y2="541.5" stroke="#000" stroke-width="1.15" />
<clipPath id="c11"><rect x="171.7" y="549.3" width="12.3" height="46"/></clipPath>
<rect x="171.7" y="549.3" width="12.3" height="46" fill="#fff"/>
<path clip-path="url(#c11)" d="M137.36 549.3L170.21 595.3M140.36 549.3L173.21 595.3M143.36 549.3L176.21 595.3M146.36 549.3L179.21 595.3M149.36 549.3L182.21 595.3M152.36 549.3L185.21 595.3M155.36 549.3L188.21 595.3M158.36 549.3L191.21 595.3M161.36 549.3L194.21 595.3M164.36 549.3L197.21 595.3M167.36 549.3L200.21 595.3M170.36 549.3L203.21 595.3M173.36 549.3L206.21 595.3M176.36 549.3L209.21 595.3M179.36 549.3L212.21 595.3M182.36 549.3L215.21 595.3M185.36 549.3L218.21 595.3" stroke="#000" stroke-width="1.3" fill="none"/>
<rect x="171.7" y="549.3" width="12.3" height="46" fill="none" stroke="#000" stroke-width="1.2"/>
<line x1="190.5" y1="551.96" x2="190.5" y2="545.5" stroke="#000" stroke-width="1.15" />
<line x1="187.8" y1="545.5" x2="193.2" y2="545.5" stroke="#000" stroke-width="1.15" />
<rect x="185" y="552.46" width="12.8" height="42.84" fill="#000" stroke="#000" stroke-width="1.2"/>
<line x1="32.4" y1="464.5" x2="32.4" y2="595.3" stroke="#000" stroke-width="1.3" />
<line x1="31.8" y1="595.3" x2="207.6" y2="595.3" stroke="#000" stroke-width="1.4" />
<text x="26.1" y="597.5" font-size="10" font-weight="bold" text-anchor="end" >0</text>
<line x1="32.4" y1="576.7" x2="36.4" y2="576.7" stroke="#000" stroke-width="1.1" />
<text x="26.1" y="579.3" font-size="10" font-weight="bold" text-anchor="end" >1</text>
<line x1="32.4" y1="558.1" x2="36.4" y2="558.1" stroke="#000" stroke-width="1.1" />
<text x="26.1" y="560.7" font-size="10" font-weight="bold" text-anchor="end" >2</text>
<line x1="32.4" y1="539.5" x2="36.4" y2="539.5" stroke="#000" stroke-width="1.1" />
<text x="26.1" y="542.1" font-size="10" font-weight="bold" text-anchor="end" >3</text>
<line x1="32.4" y1="520.9" x2="36.4" y2="520.9" stroke="#000" stroke-width="1.1" />
<text x="26.1" y="523.5" font-size="10" font-weight="bold" text-anchor="end" >4</text>
<line x1="32.4" y1="502.3" x2="36.4" y2="502.3" stroke="#000" stroke-width="1.1" />
<text x="26.1" y="504.9" font-size="10" font-weight="bold" text-anchor="end" >5</text>
<line x1="32.4" y1="483.7" x2="36.4" y2="483.7" stroke="#000" stroke-width="1.1" />
<text x="26.1" y="486.3" font-size="10" font-weight="bold" text-anchor="end" >6</text>
<line x1="32.4" y1="465.1" x2="36.4" y2="465.1" stroke="#000" stroke-width="1.1" />
<text x="26.1" y="467.7" font-size="10" font-weight="bold" text-anchor="end" >7</text>
<line x1="90.6" y1="595.3" x2="90.6" y2="592.3" stroke="#000" stroke-width="1.1" />
<line x1="148.8" y1="595.3" x2="148.8" y2="592.3" stroke="#000" stroke-width="1.1" />
<line x1="207" y1="595.3" x2="207" y2="592.3" stroke="#000" stroke-width="1.1" />
<text transform="translate(10.9 528.7) rotate(-90) scale(1.05 1)" font-size="11.7" font-weight="bold" text-anchor="middle">WAT mRNA expression</text>
<polyline points="48.5,571.3 48.5,466.5 59.5,466.5 59.5,473.8" fill="none" stroke="#000" stroke-width="1.25" />
<polyline points="73.5,537.8 73.5,466.5 63.5,466.5 63.5,473.8" fill="none" stroke="#000" stroke-width="1.25" />
<polyline points="106.5,571.3 106.5,483.5 117.5,483.5 117.5,491.2" fill="none" stroke="#000" stroke-width="1.25" />
<polyline points="132.5,545 132.5,483.5 121.5,483.5 121.5,491.2" fill="none" stroke="#000" stroke-width="1.25" />
<polyline points="164.5,568 164.5,528.5 175.5,528.5 175.5,535.8" fill="none" stroke="#000" stroke-width="1.25" />
<text x="55.7" y="456.83" font-size="10" font-weight="bold" text-anchor="middle" class="dg">††</text>
<text x="68.9" y="461.47" font-size="15.4" font-weight="bold" text-anchor="middle" class="as">**</text>
<text x="113.9" y="475.03" font-size="10" font-weight="bold" text-anchor="middle" class="dg">††</text>
<text x="127.3" y="477.67" font-size="15.4" font-weight="bold" text-anchor="middle" class="as">**</text>
<text x="171.1" y="519.83" font-size="10" font-weight="bold" text-anchor="middle" class="dg">††</text>
<text x="56.8" y="611.4" font-size="10.3" font-weight="bold" text-anchor="middle" >F4/80</text>
<text x="116.4" y="611.4" font-size="10.3" font-weight="bold" text-anchor="middle" >MCP-1</text>
<text x="161.3" y="611.4" font-size="10.3" font-weight="bold" text-anchor="start" >TNF-</text>
<text class="nb" transform="translate(185.1 611.4) scale(1.28 1)" font-size="9.6" font-weight="normal">α</text>
<rect x="15.4" y="626.2" width="8.1" height="8.1" fill="#fff" stroke="#000" stroke-width="1.2"/>
<text x="27.3" y="633.5" font-size="10.3" font-weight="bold" text-anchor="start" >Control</text>
<clipPath id="c12"><rect x="82.7" y="626.2" width="8.1" height="8.1"/></clipPath>
<rect x="82.7" y="626.2" width="8.1" height="8.1" fill="#fff"/>
<path clip-path="url(#c12)" d="M75.29 626.2L81.07 634.3M78.29 626.2L84.07 634.3M81.29 626.2L87.07 634.3M84.29 626.2L90.07 634.3M87.29 626.2L93.07 634.3M90.29 626.2L96.07 634.3M93.29 626.2L99.07 634.3" stroke="#000" stroke-width="1.3" fill="none"/>
<rect x="82.7" y="626.2" width="8.1" height="8.1" fill="none" stroke="#000" stroke-width="1.2"/>
<text x="94" y="633.5" font-size="10.4" font-weight="bold" text-anchor="start" >HF/HS</text>
<rect x="141.2" y="626.2" width="8.1" height="8.1" fill="#000" stroke="#000" stroke-width="1.2"/>
<text x="152.7" y="633.5" font-size="10.5" font-weight="bold" text-anchor="start" >HF/HS+EPA</text>
<line x1="303.5" y1="578.4" x2="303.5" y2="575.5" stroke="#000" stroke-width="1.15" />
<line x1="300.8" y1="575.5" x2="306.2" y2="575.5" stroke="#000" stroke-width="1.15" />
<rect x="297.9" y="578.9" width="12.5" height="18.9" fill="#fff" stroke="#000" stroke-width="1.2"/>
<line x1="317.5" y1="533.59" x2="317.5" y2="514.5" stroke="#000" stroke-width="1.15" />
<line x1="314.8" y1="514.5" x2="320.2" y2="514.5" stroke="#000" stroke-width="1.15" />
<clipPath id="c13"><rect x="311.4" y="534.09" width="12.5" height="63.71"/></clipPath>
<rect x="311.4" y="534.09" width="12.5" height="63.71" fill="#fff"/>
<path clip-path="url(#c13)" d="M310.4 531.8H324.9M310.4 534.8H324.9M310.4 537.8H324.9M310.4 540.8H324.9M310.4 543.8H324.9M310.4 546.8H324.9M310.4 549.8H324.9M310.4 552.8H324.9M310.4 555.8H324.9M310.4 558.8H324.9M310.4 561.8H324.9M310.4 564.8H324.9M310.4 567.8H324.9M310.4 570.8H324.9M310.4 573.8H324.9M310.4 576.8H324.9M310.4 579.8H324.9M310.4 582.8H324.9M310.4 585.8H324.9M310.4 588.8H324.9M310.4 591.8H324.9M310.4 594.8H324.9M310.4 597.8H324.9M310.4 600.8H324.9" stroke="#000" stroke-width="1.6" fill="none"/>
<rect x="311.4" y="534.09" width="12.5" height="63.71" fill="none" stroke="#000" stroke-width="1.2"/>
<line x1="330.5" y1="528.93" x2="330.5" y2="507.5" stroke="#000" stroke-width="1.15" />
<line x1="327.8" y1="507.5" x2="333.2" y2="507.5" stroke="#000" stroke-width="1.15" />
<rect x="324.9" y="529.43" width="13" height="68.37" fill="#000" stroke="#000" stroke-width="1.2"/>
<line x1="363.5" y1="578.4" x2="363.5" y2="573.5" stroke="#000" stroke-width="1.15" />
<line x1="360.8" y1="573.5" x2="366.2" y2="573.5" stroke="#000" stroke-width="1.15" />
<rect x="357.8" y="578.9" width="12.5" height="18.9" fill="#fff" stroke="#000" stroke-width="1.2"/>
<line x1="377.5" y1="534.17" x2="377.5" y2="519.5" stroke="#000" stroke-width="1.15" />
<line x1="374.8" y1="519.5" x2="380.2" y2="519.5" stroke="#000" stroke-width="1.15" />
<clipPath id="c14"><rect x="371.3" y="534.67" width="12.5" height="63.13"/></clipPath>
<rect x="371.3" y="534.67" width="12.5" height="63.13" fill="#fff"/>
<path clip-path="url(#c14)" d="M370.3 531.8H384.8M370.3 534.8H384.8M370.3 537.8H384.8M370.3 540.8H384.8M370.3 543.8H384.8M370.3 546.8H384.8M370.3 549.8H384.8M370.3 552.8H384.8M370.3 555.8H384.8M370.3 558.8H384.8M370.3 561.8H384.8M370.3 564.8H384.8M370.3 567.8H384.8M370.3 570.8H384.8M370.3 573.8H384.8M370.3 576.8H384.8M370.3 579.8H384.8M370.3 582.8H384.8M370.3 585.8H384.8M370.3 588.8H384.8M370.3 591.8H384.8M370.3 594.8H384.8M370.3 597.8H384.8M370.3 600.8H384.8" stroke="#000" stroke-width="1.6" fill="none"/>
<rect x="371.3" y="534.67" width="12.5" height="63.13" fill="none" stroke="#000" stroke-width="1.2"/>
<line x1="390.5" y1="548.14" x2="390.5" y2="540.5" stroke="#000" stroke-width="1.15" />
<line x1="387.8" y1="540.5" x2="393.2" y2="540.5" stroke="#000" stroke-width="1.15" />
<rect x="384.8" y="548.64" width="13" height="49.16" fill="#000" stroke="#000" stroke-width="1.2"/>
<line x1="423.5" y1="578.4" x2="423.5" y2="575.5" stroke="#000" stroke-width="1.15" />
<line x1="420.8" y1="575.5" x2="426.2" y2="575.5" stroke="#000" stroke-width="1.15" />
<rect x="417.7" y="578.9" width="12.5" height="18.9" fill="#fff" stroke="#000" stroke-width="1.2"/>
<line x1="437.5" y1="557.84" x2="437.5" y2="549.5" stroke="#000" stroke-width="1.15" />
<line x1="434.8" y1="549.5" x2="440.2" y2="549.5" stroke="#000" stroke-width="1.15" />
<clipPath id="c15"><rect x="431.2" y="558.34" width="12.5" height="39.46"/></clipPath>
<rect x="431.2" y="558.34" width="12.5" height="39.46" fill="#fff"/>
<path clip-path="url(#c15)" d="M430.2 555.8H444.7M430.2 558.8H444.7M430.2 561.8H444.7M430.2 564.8H444.7M430.2 567.8H444.7M430.2 570.8H444.7M430.2 573.8H444.7M430.2 576.8H444.7M430.2 579.8H444.7M430.2 582.8H444.7M430.2 585.8H444.7M430.2 588.8H444.7M430.2 591.8H444.7M430.2 594.8H444.7M430.2 597.8H444.7M430.2 600.8H444.7" stroke="#000" stroke-width="1.6" fill="none"/>
<rect x="431.2" y="558.34" width="12.5" height="39.46" fill="none" stroke="#000" stroke-width="1.2"/>
<line x1="450.5" y1="549.3" x2="450.5" y2="537.5" stroke="#000" stroke-width="1.15" />
<line x1="447.8" y1="537.5" x2="453.2" y2="537.5" stroke="#000" stroke-width="1.15" />
<rect x="444.7" y="549.8" width="13" height="48" fill="#000" stroke="#000" stroke-width="1.2"/>
<line x1="288.4" y1="461.4" x2="288.4" y2="597.8" stroke="#000" stroke-width="1.3" />
<line x1="287.8" y1="597.8" x2="468.7" y2="597.8" stroke="#000" stroke-width="1.4" />
<text x="283.6" y="598.2" font-size="10" font-weight="bold" text-anchor="end" >0</text>
<line x1="288.4" y1="578.4" x2="290.9" y2="578.4" stroke="#000" stroke-width="1.1" />
<text x="283.6" y="581.8" font-size="10" font-weight="bold" text-anchor="end" >1</text>
<line x1="288.4" y1="559" x2="290.9" y2="559" stroke="#000" stroke-width="1.1" />
<text x="283.6" y="562.4" font-size="10" font-weight="bold" text-anchor="end" >2</text>
<line x1="288.4" y1="539.6" x2="290.9" y2="539.6" stroke="#000" stroke-width="1.1" />
<text x="283.6" y="543" font-size="10" font-weight="bold" text-anchor="end" >3</text>
<line x1="288.4" y1="520.2" x2="290.9" y2="520.2" stroke="#000" stroke-width="1.1" />
<text x="283.6" y="523.6" font-size="10" font-weight="bold" text-anchor="end" >4</text>
<line x1="288.4" y1="500.8" x2="290.9" y2="500.8" stroke="#000" stroke-width="1.1" />
<text x="283.6" y="504.2" font-size="10" font-weight="bold" text-anchor="end" >5</text>
<line x1="288.4" y1="481.4" x2="290.9" y2="481.4" stroke="#000" stroke-width="1.1" />
<text x="283.6" y="484.8" font-size="10" font-weight="bold" text-anchor="end" >6</text>
<line x1="288.4" y1="462" x2="290.9" y2="462" stroke="#000" stroke-width="1.1" />
<text x="283.6" y="465.4" font-size="10" font-weight="bold" text-anchor="end" >7</text>
<line x1="348.3" y1="597.8" x2="348.3" y2="594.8" stroke="#000" stroke-width="1.1" />
<line x1="408.2" y1="597.8" x2="408.2" y2="594.8" stroke="#000" stroke-width="1.1" />
<line x1="468.1" y1="597.8" x2="468.1" y2="594.8" stroke="#000" stroke-width="1.1" />
<text transform="translate(267.2 526.5) rotate(-90) scale(1.135 1)" font-size="11.2" font-weight="bold" text-anchor="middle">WAT mRNA expression</text>
<polyline points="364.5,566.5 364.5,505.5 374.5,505.5 374.5,513.5" fill="none" stroke="#000" stroke-width="1.25" />
<polyline points="423.5,573.5 423.5,537.5 432.5,537.5 432.5,545.2" fill="none" stroke="#000" stroke-width="1.25" />
<text x="370.9" y="497.33" font-size="10" font-weight="bold" text-anchor="middle" class="dg">†</text>
<text x="429.5" y="529.03" font-size="10" font-weight="bold" text-anchor="middle" class="dg">†</text>
<text x="311" y="612.8" font-size="10.3" font-weight="bold" text-anchor="middle" >F4/80</text>
<text x="380.3" y="612.8" font-size="10.3" font-weight="bold" text-anchor="middle" >MCP-1</text>
<text x="428.4" y="612.8" font-size="10.3" font-weight="bold" text-anchor="start" >TNF-</text>
<text class="nb" transform="translate(452.2 612.8) scale(1.28 1)" font-size="9.6" font-weight="normal">α</text>
<rect x="288.9" y="625.9" width="8" height="8" fill="#fff" stroke="#000" stroke-width="1.2"/>
<text x="301.3" y="633.4" font-size="10.15" font-weight="bold" text-anchor="start" >Control</text>
<clipPath id="c16"><rect x="355.2" y="625.9" width="8" height="8"/></clipPath>
<rect x="355.2" y="625.9" width="8" height="8" fill="#fff"/>
<path clip-path="url(#c16)" d="M354.2 621.8H364.2M354.2 624.8H364.2M354.2 627.8H364.2M354.2 630.8H364.2M354.2 633.8H364.2M354.2 636.8H364.2" stroke="#000" stroke-width="1.6" fill="none"/>
<rect x="355.2" y="625.9" width="8" height="8" fill="none" stroke="#000" stroke-width="1.2"/>
<text x="368.9" y="633.4" font-size="10.3" font-weight="bold" text-anchor="start" >HF</text>
<rect x="392.6" y="625.2" width="8.2" height="8.3" fill="#000" stroke="#000" stroke-width="1.2"/>
<text x="405.1" y="633.2" font-size="10.5" font-weight="bold" text-anchor="start" >HF+EPA</text>
</svg></body></html>
